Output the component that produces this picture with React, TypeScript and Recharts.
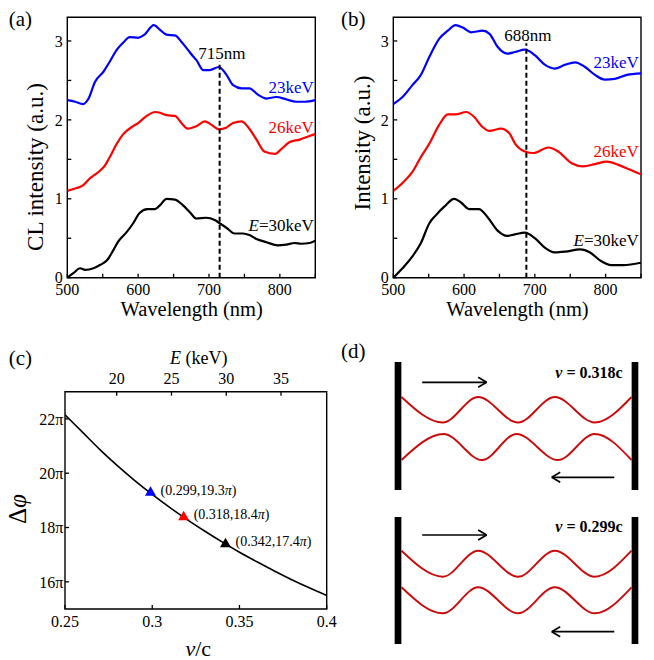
import React from 'react';
import { ComposedChart, Line, XAxis, YAxis, ReferenceLine, ReferenceArea, ReferenceDot, Scatter } from 'recharts';

const FONT = "'Liberation Serif', 'Tinos', 'DejaVu Serif', 'Noto Serif', serif";

// ---------- Panel (a): CL intensity ----------
const wlBlueA = [500, 511, 522, 530, 539, 551, 560, 570, 579, 588, 600, 609, 622, 631, 640, 652, 661, 670, 678, 682, 692, 701, 714, 724, 734, 746, 757, 769, 781, 795, 809, 823, 835, 850];
const clBlueA = [2.25, 2.23, 2.2, 2.27, 2.48, 2.61, 2.74, 2.89, 2.98, 3.05, 3.04, 3.08, 3.2, 3.14, 3.08, 3.07, 2.99, 2.89, 2.8, 2.76, 2.63, 2.63, 2.67, 2.58, 2.44, 2.4, 2.4, 2.32, 2.27, 2.29, 2.26, 2.23, 2.23, 2.25];
const wlRedA = [500, 511, 522, 532, 544, 553, 560, 570, 579, 591, 600, 612, 624, 631, 640, 652, 661, 670, 682, 694, 703, 714, 724, 734, 746, 755, 767, 778, 793, 802, 814, 828, 840, 850];
const clRedA = [1.1, 1.13, 1.17, 1.26, 1.34, 1.42, 1.53, 1.7, 1.82, 1.91, 1.96, 2.05, 2.1, 2.09, 2.06, 2.05, 1.96, 1.89, 1.92, 1.98, 1.94, 1.88, 1.9, 1.96, 1.98, 1.91, 1.75, 1.6, 1.57, 1.63, 1.72, 1.75, 1.79, 1.82];
const wlBlackA = [500, 509, 518, 525, 537, 546, 556, 565, 572, 584, 593, 602, 613, 624, 631, 640, 652, 663, 673, 682, 696, 708, 715, 725, 736, 748, 757, 767, 781, 797, 809, 821, 830, 842, 850];
const clBlackA = [0, 0.06, 0.12, 0.1, 0.12, 0.16, 0.22, 0.35, 0.46, 0.58, 0.69, 0.82, 0.87, 0.87, 0.92, 1.0, 0.99, 0.92, 0.83, 0.75, 0.76, 0.73, 0.69, 0.63, 0.56, 0.56, 0.54, 0.49, 0.45, 0.41, 0.42, 0.44, 0.43, 0.44, 0.47];

// ---------- Panel (b): simulated intensity ----------
const wlBlueB = [500, 513, 527, 539, 551, 565, 577, 588, 598, 610, 626, 636, 647, 661, 672, 686, 700, 714, 728, 743, 757, 771, 785, 799, 813, 830, 850];
const inBlueB = [2.2, 2.29, 2.44, 2.57, 2.8, 3.03, 3.13, 3.2, 3.17, 3.11, 3.13, 3.09, 2.93, 2.84, 2.86, 2.89, 2.82, 2.7, 2.65, 2.7, 2.73, 2.67, 2.57, 2.51, 2.52, 2.57, 2.59];
const wlRedB = [500, 513, 527, 539, 551, 565, 577, 588, 603, 614, 626, 636, 652, 664, 672, 686, 698, 719, 733, 752, 768, 785, 801, 818, 834, 850];
const inRedB = [1.1, 1.2, 1.34, 1.53, 1.7, 1.94, 2.07, 2.07, 2.1, 2.04, 1.91, 1.86, 1.89, 1.83, 1.7, 1.6, 1.58, 1.65, 1.6, 1.45, 1.41, 1.44, 1.47, 1.43, 1.37, 1.31];
const wlBlackB = [500, 513, 527, 539, 551, 560, 572, 586, 596, 607, 621, 633, 647, 661, 672, 686, 700, 714, 728, 743, 764, 778, 792, 808, 825, 850];
const inBlackB = [0, 0.12, 0.27, 0.44, 0.69, 0.79, 0.9, 1.0, 0.95, 0.87, 0.87, 0.77, 0.6, 0.53, 0.55, 0.57, 0.5, 0.38, 0.32, 0.33, 0.36, 0.32, 0.22, 0.16, 0.16, 0.19];

const wlTicks = [500, 550, 600, 650, 700, 750, 800, 850];
const intTicks = [0, 0.5, 1, 1.5, 2, 2.5, 3];
const energyLabels = ['23keV', '26keV', '30keV'];

// ---------- Panel (c): phase vs velocity ----------
const vcX = [0.25, 0.26, 0.27, 0.28, 0.29, 0.3, 0.31, 0.32, 0.33, 0.34, 0.35, 0.36, 0.37, 0.38, 0.39, 0.4];
const phiY = [22.15, 21.51, 20.87, 20.28, 19.73, 19.22, 18.74, 18.29, 17.87, 17.47, 17.09, 16.74, 16.4, 16.08, 15.78, 15.5];
const markV = [0.299, 0.318, 0.342];
const markE = [23, 26, 30];
const markPhi = [19.3, 18.4, 17.4];
const markColors = ['#0000ff', '#ff0000', '#000000'];
const vcTicks = [0.25, 0.3, 0.35, 0.4];
const phiTicks = [16, 18, 20, 22];
const keVTicks = [20, 25, 30, 35];

// ---------- Panel (d): schematic ----------
const barX = [-0.09, 6.09];
const groupSpan = [
  [16.0, 28.8],
  [0.6, 13.3],
];
const waveX = [0, 1.08, 2.0, 3.04, 4.0, 5.04, 6];
const waveX2 = [0, 1.1, 2.1, 3.0, 4.08, 5.04, 6];
const wave1 = [25.3, 22.75, 25.3, 22.75, 25.3, 22.75, 25.3];
const wave2 = [19.0, 21.6, 19.0, 21.6, 19.0, 21.6, 19.0];
const wave3 = [9.93, 7.33, 9.93, 7.33, 9.93, 7.33, 9.93];
const wave4 = [6.27, 3.67, 6.27, 3.67, 6.27, 3.67, 6.27];
// arrows: [tail x, tip x, y]
const arrows = [
  [0.54, 2.22, 26.77],
  [5.55, 3.92, 17.27],
  [0.54, 2.22, 11.5],
  [5.55, 3.92, 1.83],
];
const speedLabels = ['0.318c', '0.299c'];
const speedLabelY = [27.73, 12.33];

const zip = (xs: number[], ys: number[]) => xs.map((x, i) => ({ x, y: ys[i] }));

const tickStyle = { fill: '#000', fontSize: 16, fontFamily: FONT };
const tickLineStyle = { stroke: '#000', strokeWidth: 1.3 };

const textShape = (content: React.ReactNode, anchor: string, fill: string, size: number) => (p: any) => (
  <text x={p.cx} y={p.cy} dy="0.35em" textAnchor={anchor} fill={fill} fontSize={size} fontFamily={FONT}>
    {content}
  </text>
);

type Series = { data: { x: number; y: number }[]; color: string };

function SpectrumPanel(props: {
  width: number;
  ml: number;
  mr: number;
  series: Series[];
  markerX: number;
  markerTop: number;
  markerText: string;
  markerLabelX: number;
  markerLabelY: number;
  labelX: number;
  labelY: number[];
}) {
  const { width, ml, mr, series, markerX, markerTop, markerText, markerLabelX, markerLabelY, labelX, labelY } = props;
  return (
    <ComposedChart width={width} height={322} margin={{ top: 17.3, right: mr, bottom: 14.3, left: ml }}>
      <XAxis
        type="number"
        dataKey="x"
        domain={[500, 850]}
        ticks={wlTicks}
        tickFormatter={(v: number) => (v % 100 === 0 ? String(v) : '')}
        tickSize={-4}
        tickMargin={9.6}
        axisLine={false}
        tickLine={tickLineStyle}
        tick={tickStyle}
        height={30}
        allowDataOverflow
      />
      <YAxis
        type="number"
        dataKey="y"
        domain={[0, 3.3]}
        ticks={intTicks}
        tickFormatter={(v: number) => (Number.isInteger(v) ? String(v) : '')}
        tickSize={-4}
        tickMargin={8.5}
        width={50}
        axisLine={false}
        tickLine={tickLineStyle}
        tick={tickStyle}
        allowDataOverflow
      />
      <ReferenceArea x1={500} x2={850} y1={0} y2={3.3} fill="none" stroke="#000" strokeWidth={1.4} ifOverflow="visible" />
      {series.map((s, i) => (
        <Line
          key={i}
          data={s.data}
          dataKey="y"
          type="monotone"
          stroke={s.color}
          strokeWidth={2.2}
          dot={false}
          activeDot={false}
          isAnimationActive={false}
        />
      ))}
      <ReferenceLine
        segment={[
          { x: markerX, y: 0 },
          { x: markerX, y: markerTop },
        ]}
        stroke="#000"
        strokeWidth={2}
        strokeDasharray="5 3"
        ifOverflow="visible"
      />
      <ReferenceDot x={markerLabelX} y={markerLabelY} r={0} shape={textShape(markerText, 'middle', '#000', 17)} />
      <ReferenceDot x={labelX} y={labelY[0]} r={0} shape={textShape(energyLabels[0], 'end', series[0].color, 17)} />
      <ReferenceDot x={labelX} y={labelY[1]} r={0} shape={textShape(energyLabels[1], 'end', series[1].color, 17)} />
      <ReferenceDot
        x={labelX}
        y={labelY[2]}
        r={0}
        shape={textShape(
          <>
            <tspan fontStyle="italic">E</tspan>={energyLabels[2]}
          </>,
          'end',
          series[2].color,
          17
        )}
      />
    </ComposedChart>
  );
}

function Title(props: { x: number; y: number; size: number; rotate?: boolean; bold?: boolean; children: React.ReactNode }) {
  const { x, y, size, rotate, bold, children } = props;
  return (
    <div
      style={{
        position: 'absolute',
        left: x,
        top: y,
        transform: `translate(-50%, -50%)${rotate ? ' rotate(-90deg)' : ''}`,
        fontSize: size,
        fontFamily: FONT,
        fontWeight: bold ? 'bold' : 'normal',
        whiteSpace: 'nowrap',
        lineHeight: 'normal',
        color: '#000',
      }}
    >
      {children}
    </div>
  );
}

function PhasePanel() {
  const curve = zip(vcX, phiY);
  const energyAnchors = zip(markE, markPhi);
  return (
    <ComposedChart width={345} height={330} margin={{ top: 31.7, right: 18.3, bottom: 21, left: 15 }}>
      <XAxis
        xAxisId="b"
        type="number"
        dataKey="x"
        domain={[0.25, 0.4]}
        ticks={vcTicks}
        tickFormatter={(v: number) => String(v)}
        tickSize={-4}
        tickMargin={10.6}
        axisLine={false}
        tickLine={tickLineStyle}
        tick={tickStyle}
        height={30}
        allowDataOverflow
      />
      <XAxis
        xAxisId="t"
        orientation="top"
        type="number"
        dataKey="x"
        domain={[15.28, 39.17]}
        ticks={keVTicks}
        tickSize={-4}
        tickMargin={12}
        axisLine={false}
        tickLine={tickLineStyle}
        tick={tickStyle}
        height={30}
        allowDataOverflow
      />
      <YAxis
        type="number"
        dataKey="y"
        domain={[15, 23]}
        ticks={phiTicks}
        tickFormatter={(v: number) => `${v}π`}
        tickSize={-4}
        tickMargin={5.7}
        width={50}
        axisLine={false}
        tickLine={tickLineStyle}
        tick={tickStyle}
        allowDataOverflow
      />
      <ReferenceArea xAxisId="b" x1={0.25} x2={0.4} y1={15} y2={23} fill="none" stroke="#000" strokeWidth={1.4} ifOverflow="visible" />
      <Line
        xAxisId="t"
        data={energyAnchors}
        dataKey="y"
        stroke="none"
        strokeWidth={0}
        dot={false}
        activeDot={false}
        isAnimationActive={false}
      />
      <Line xAxisId="b" data={curve} dataKey="y" type="monotone" stroke="#000" strokeWidth={1.6} dot={false} activeDot={false} isAnimationActive={false} />
      {markV.map((v, i) => (
        <Scatter
          key={i}
          xAxisId="b"
          data={[{ x: v, y: markPhi[i] }]}
          isAnimationActive={false}
          shape={(p: any) => (
            <g>
              <polygon
                points={`${p.cx},${p.cy - 6} ${p.cx + 5.5},${p.cy + 3.5} ${p.cx - 5.5},${p.cy + 3.5}`}
                fill={markColors[i]}
              />
              <text x={p.cx + 10} y={p.cy - 2.5} dy="0.35em" fontSize={14} fontFamily={FONT} fill="#000">
                ({v},{markPhi[i]}
                <tspan fontStyle="italic">π</tspan>)
              </text>
            </g>
          )}
        />
      ))}
    </ComposedChart>
  );
}

function SchematicPanel() {
  const waves = [zip(waveX, wave1), zip(waveX2, wave2), zip(waveX, wave3), zip(waveX, wave4)];
  const headDx = 0.22;
  const headDy = 0.5;
  return (
    <ComposedChart width={329} height={330} margin={{ top: 20, right: 14.8, bottom: 10, left: 68.8 }}>
      <XAxis type="number" dataKey="x" domain={[-0.2, 6.2]} hide allowDataOverflow />
      <YAxis type="number" dataKey="y" domain={[0, 30]} hide allowDataOverflow />
      {groupSpan.map((g, gi) =>
        barX.map((bx, bi) => (
          <ReferenceLine
            key={`bar${gi}${bi}`}
            segment={[
              { x: bx, y: g[0] },
              { x: bx, y: g[1] },
            ]}
            stroke="#000"
            strokeWidth={6.7}
            ifOverflow="visible"
          />
        ))
      )}
      {waves.map((w, i) => (
        <Line
          key={`w${i}`}
          data={w}
          dataKey="y"
          type="monotone"
          stroke="#cc0a0a"
          strokeWidth={1.9}
          dot={false}
          activeDot={false}
          isAnimationActive={false}
        />
      ))}
      {arrows.map(([tail, tip, y], i) => {
        const dir = tip > tail ? 1 : -1;
        return (
          <React.Fragment key={`a${i}`}>
            <ReferenceLine segment={[{ x: tail, y }, { x: tip, y }]} stroke="#000" strokeWidth={1.7} ifOverflow="visible" />
            <ReferenceLine
              segment={[{ x: tip - dir * headDx, y: y + headDy }, { x: tip, y }]}
              stroke="#000"
              strokeWidth={1.7}
              ifOverflow="visible"
            />
            <ReferenceLine
              segment={[{ x: tip - dir * headDx, y: y - headDy }, { x: tip, y }]}
              stroke="#000"
              strokeWidth={1.7}
              ifOverflow="visible"
            />
          </React.Fragment>
        );
      })}
      {speedLabels.map((s, i) => (
        <ReferenceDot
          key={`s${i}`}
          x={5.77}
          y={speedLabelY[i]}
          r={0}
          shape={(p: any) => (
            <text x={p.cx} y={p.cy} dy="0.35em" textAnchor="end" fontSize={16} fontWeight="bold" fontFamily={FONT} fill="#000">
              <tspan fontStyle="italic">v</tspan> = {s}
            </text>
          )}
        />
      ))}
    </ComposedChart>
  );
}

export default function App() {
  const seriesA: Series[] = [
    { data: zip(wlBlueA, clBlueA), color: '#0000ff' },
    { data: zip(wlRedA, clRedA), color: '#ff0000' },
    { data: zip(wlBlackA, clBlackA), color: '#000000' },
  ];
  const seriesB: Series[] = [
    { data: zip(wlBlueB, inBlueB), color: '#0000ff' },
    { data: zip(wlRedB, inRedB), color: '#ff0000' },
    { data: zip(wlBlackB, inBlackB), color: '#000000' },
  ];
  return (
    <div style={{ position: 'absolute', left: 0, top: 0, width: 654, height: 660, background: '#fff', fontFamily: FONT, overflow: 'hidden' }}>
      <div style={{ position: 'absolute', left: 0, top: 0 }}>
        <SpectrumPanel
          width={330}
          ml={17.3}
          mr={14.7}
          series={seriesA}
          markerX={715}
          markerTop={2.74}
          markerText="715nm"
          markerLabelX={718}
          markerLabelY={2.85}
          labelX={848}
          labelY={[2.41, 1.91, 0.67]}
        />
      </div>
      <div style={{ position: 'absolute', left: 325, top: 0 }}>
        <SpectrumPanel
          width={329}
          ml={18.3}
          mr={13}
          series={seriesB}
          markerX={688}
          markerTop={2.97}
          markerText="688nm"
          markerLabelX={690}
          markerLabelY={3.08}
          labelX={847}
          labelY={[2.73, 1.6, 0.48]}
        />
      </div>
      <div style={{ position: 'absolute', left: 0, top: 330 }}>
        <PhasePanel />
      </div>
      <div style={{ position: 'absolute', left: 325, top: 330 }}>
        <SchematicPanel />
      </div>

      <Title x={20.3} y={19.3} size={21}>(a)</Title>
      <Title x={353.3} y={19.3} size={21}>(b)</Title>
      <Title x={20.3} y={358.3} size={21}>(c)</Title>
      <Title x={353.3} y={351.3} size={21}>(d)</Title>

      <Title x={35.7} y={166.7} size={23} rotate>CL intensity (a.u.)</Title>
      <Title x={191.7} y={309} size={20.5}>Wavelength (nm)</Title>
      <Title x={362.5} y={142.5} size={23} rotate>Intensity (a.u.)</Title>
      <Title x={517.5} y={309} size={20.5}>Wavelength (nm)</Title>

      <Title x={17.5} y={509} size={25} rotate>
        Δ<i>φ</i>
      </Title>
      <Title x={198.3} y={649} size={22}>
        <i>v</i>/c
      </Title>
      <Title x={198.7} y={358} size={18}>
        <i>E</i> (keV)
      </Title>
    </div>
  );
}
